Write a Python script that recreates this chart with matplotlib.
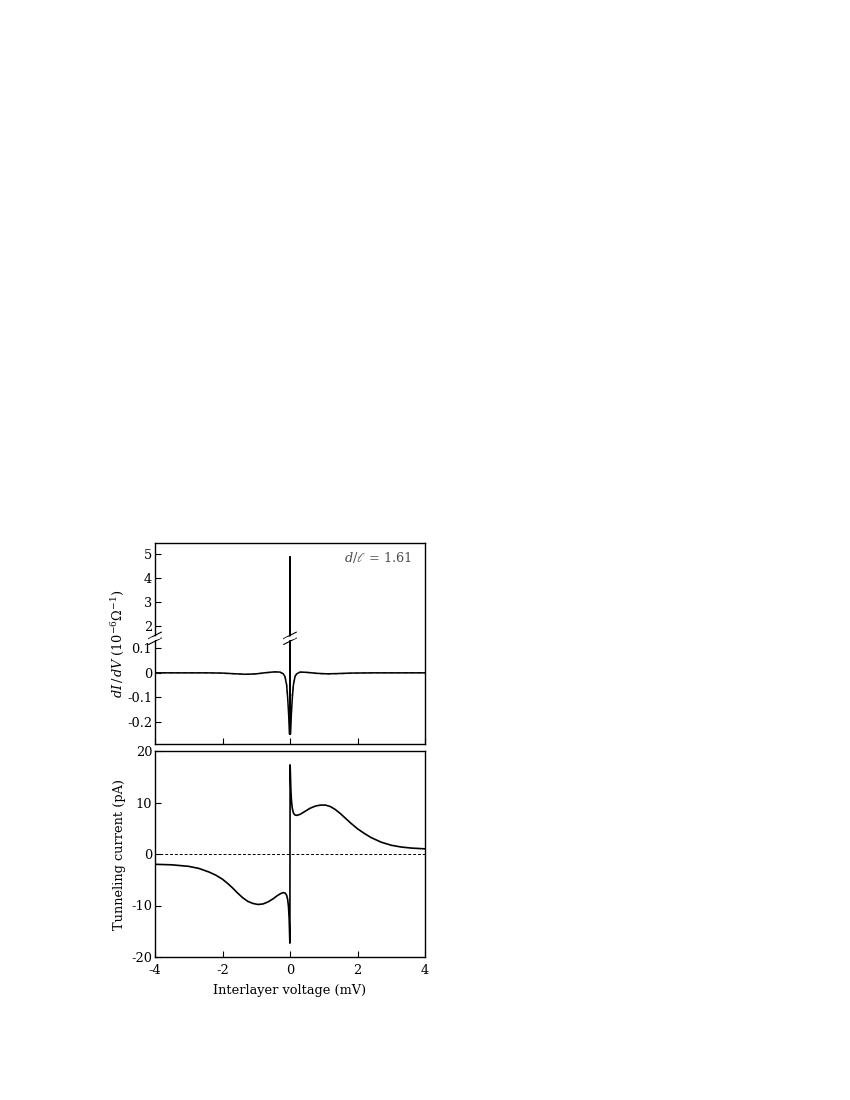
import numpy as np
import matplotlib
matplotlib.use("Agg")
import matplotlib.pyplot as plt

plt.rcParams['font.family'] = ['DejaVu Serif']
plt.rcParams['mathtext.fontset'] = 'dejavuserif'
plt.rcParams['font.size'] = 9.3
plt.rcParams['axes.unicode_minus'] = False

# ---- data: top panel dI/dV (solid) ----
v_top = [-4.0, -3.0, -2.5, -2.0, -1.6, -1.3, -1.0, -0.7, -0.45, -0.3, -0.2, -0.15,
         -0.1, -0.07, -0.04, -0.025, -0.012, -0.004, 0.0, 0.004, 0.012, 0.025, 0.04,
         0.07, 0.1, 0.15, 0.2, 0.3, 0.5, 0.8, 1.1, 1.4, 1.8, 2.5, 3.0, 4.0]
g_top = [0.0, 0.0, 0.0, -0.001, -0.004, -0.006, -0.004, 0.001, 0.004, 0.003, -0.004, -0.015,
         -0.05, -0.1, -0.17, -0.22, -0.25, -0.2, 4.9, -0.2, -0.25, -0.22, -0.17,
         -0.1, -0.05, -0.015, -0.004, 0.003, 0.002, -0.002, -0.004, -0.003, -0.001, 0.0, 0.0, 0.0]
# dashed comparison curve
v_dash = [-4.0, -2.5, -2.0, -1.6, -1.3, -1.0, -0.7, -0.45, -0.3, -0.2, -0.15, -0.1, -0.07,
          0.07, 0.1, 0.15, 0.2, 0.3, 0.5, 0.8, 1.1, 1.4, 1.8, 2.5, 4.0]
g_dash = [0.0, 0.0, -0.002, -0.005, -0.006, -0.005, 0.0, 0.003, 0.003, -0.003, -0.012, -0.045, -0.09,
          -0.09, -0.045, -0.012, -0.003, 0.003, 0.001, -0.003, -0.005, -0.004, -0.002, 0.0, 0.0]

# ---- data: bottom panel tunneling current ----
v_bot = [-4.0, -3.5, -3.0, -2.7, -2.4, -2.2, -2.0, -1.85, -1.7, -1.55, -1.4, -1.25,
         -1.1, -0.95, -0.8, -0.65, -0.5, -0.38, -0.28, -0.2, -0.14, -0.1, -0.07,
         -0.045, -0.025, -0.012, -0.004,
         0.004, 0.012, 0.025, 0.045, 0.07, 0.1, 0.14, 0.2, 0.3, 0.45, 0.6, 0.75,
         0.9, 1.05, 1.2, 1.35, 1.5, 1.65, 1.8, 2.0, 2.2, 2.4, 2.7, 3.0, 3.3, 3.6, 4.0]
i_bot = [-2.0, -2.1, -2.4, -2.8, -3.5, -4.1, -4.9, -5.7, -6.6, -7.6, -8.5, -9.2,
         -9.6, -9.8, -9.7, -9.3, -8.7, -8.1, -7.7, -7.5, -7.6, -8.0, -8.8,
         -10.2, -12.5, -15.5, -17.3,
         17.3, 15.5, 12.5, 10.2, 8.8, 8.0, 7.6, 7.5, 7.7, 8.3, 8.9, 9.3,
         9.5, 9.5, 9.2, 8.6, 7.8, 6.9, 6.0, 4.9, 4.0, 3.2, 2.3, 1.7, 1.35, 1.15, 1.0]

top_yticks = [-0.2, -0.1, 0, 0.1, 2, 3, 4, 5]
top_yticklabels = ['-0.2', '-0.1', '0', '0.1', '2', '3', '4', '5']
bot_yticks = [-20, -10, 0, 10, 20]
xticks = [-4, -2, 0, 2, 4]

# ---- broken-axis scale for top panel ----
B1, B2, EPS, K = 0.14, 1.47, 1e-3, 0.0968
U1 = B1
U2 = B1 + (B2 - B1) * EPS

def fwd(y):
    y = np.asarray(y, dtype=float)
    return np.where(y <= B1, y,
                    np.where(y <= B2, B1 + (y - B1) * EPS, U2 + (y - B2) * K))

def inv(u):
    u = np.asarray(u, dtype=float)
    return np.where(u <= U1, u,
                    np.where(u <= U2, B1 + (u - U1) / EPS, B2 + (u - U2) / K))

fig = plt.figure(figsize=(8.5, 11), dpi=100)
ax1 = fig.add_axes([155/850, 1-744/1100, 270/850, 201/1100])
ax2 = fig.add_axes([155/850, 1-957/1100, 270/850, 206/1100])

ax1.set_yscale('function', functions=(fwd, inv))
ax1.plot(v_dash, g_dash, color='0.55', lw=1.0, ls=(0, (3, 2)))
ax1.plot(v_top, g_top, color='black', lw=1.1)
ax1.set_xlim(-4, 4)
ax1.set_ylim(-0.29, 5.475)
ax1.set_yticks(top_yticks)
ax1.set_yticklabels(top_yticklabels)
ax1.set_xticks(xticks)
ax1.set_xticklabels([])
ax1.tick_params(direction='in', length=4, width=0.8, top=False, right=False, pad=2)
ax1.yaxis.set_minor_locator(matplotlib.ticker.NullLocator())
ax1.set_ylabel(r'$dI\,/\,dV\;(10^{-6}\Omega^{-1})$', labelpad=1)
ax1.text(0.95, 0.93, r'$d/\ell$ = 1.61', transform=ax1.transAxes,
         ha='right', va='center', color='0.3', fontsize=9.3)

# break marks
ybr = (U1 + U2) / 2
for xb in (-4.0, 0.0):
    for dy in (-0.012, 0.012):
        ax1.plot([xb - 0.2, xb + 0.2], [inv(ybr + dy - 0.014), inv(ybr + dy + 0.014)],
                 color='black', lw=0.8, clip_on=False, solid_capstyle='butt')
    ax1.plot([xb - 0.1, xb + 0.1], [inv(ybr - 0.004), inv(ybr + 0.004)],
             color='white', lw=2.5, clip_on=False, zorder=3)

ax2.axhline(0, color='black', lw=0.7, ls=(0, (3, 2)))
ax2.plot(v_bot, i_bot, color='black', lw=1.2)
ax2.set_xlim(-4, 4)
ax2.set_ylim(-20, 20)
ax2.set_yticks(bot_yticks)
ax2.set_xticks(xticks)
ax2.tick_params(direction='in', length=4, width=0.8, top=False, right=False)
ax2.tick_params(axis='y', pad=2)
ax2.tick_params(axis='x', pad=5)
ax2.set_xlabel('Interlayer voltage (mV)', labelpad=5)
ax2.set_ylabel('Tunneling current (pA)', labelpad=4)

for ax in (ax1, ax2):
    for s in ax.spines.values():
        s.set_linewidth(1.0)

fig.savefig('out.png', dpi=100)
